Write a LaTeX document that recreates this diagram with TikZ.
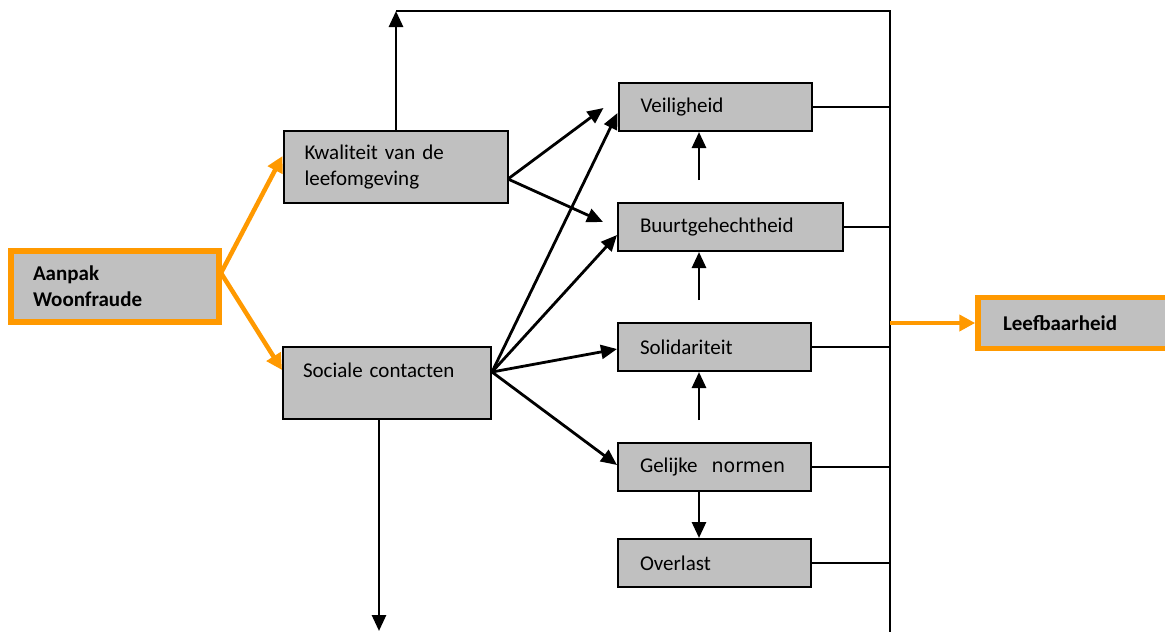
\documentclass[tikz,border=0pt]{standalone}
\usepackage{fontspec}
\setmainfont{Carlito}
\newfontfamily\verd{DejaVu Sans}
\usetikzlibrary{arrows.meta,calc}
\definecolor{boxgray}{RGB}{192,192,192}
\definecolor{orng}{RGB}{255,153,0}
\begin{document}
\begin{tikzpicture}[x=1pt,y=-1pt,
  box/.style={draw=black, line width=2pt, fill=boxgray, inner sep=0pt,
    font=\fontsize{21}{26}\selectfont, align=left},
  obox/.style={box, draw=orng, line width=5.5pt, font=\fontsize{21}{26}\selectfont\bfseries},
  arr/.style={line width=2.8pt, -{Triangle[length=16pt,width=14pt]}},
  oarr/.style={line width=4.5pt, draw=orng, color=orng, -{Triangle[length=16pt,width=16pt]}},
  link/.style={line width=1.8pt}]
\useasboundingbox (0,0) rectangle (1165,632);
% boxes
\node[obox, minimum width=208pt, minimum height=71pt, text width=164pt] (aanpak) at (115,286.5) {Aanpak\\Woonfraude};
\node[box, minimum width=224pt, minimum height=72pt, text width=182pt] (kwal) at (395.5,167) {Kwaliteit van de\\leefomgeving};
\node[box, minimum width=208pt, minimum height=72pt, text width=168pt] (soc) at (387,383) {Sociale contacten\\\mbox{}};
\node[box, minimum width=193pt, minimum height=48pt, text width=149pt] (veil) at (715,107) {Veiligheid};
\node[box, minimum width=225pt, minimum height=48pt, text width=181pt] (buurt) at (730.5,227) {Buurtgehechtheid};
\node[box, minimum width=193pt, minimum height=48pt, text width=149pt] (solid) at (714.5,347) {Solidariteit};
\node[box, minimum width=193pt, minimum height=48pt, text width=149pt] (gelijk) at (714.5,467) {Gelijke\ \ {\verd\fontsize{19}{26}\selectfont normen}};
\node[box, minimum width=193pt, minimum height=48pt, text width=149pt] (overl) at (714.5,563) {Overlast};
\node[obox, minimum width=200pt, minimum height=51pt, text width=150pt] (leef) at (1078,323) {Leefbaarheid};
% coordinates
\coordinate (ku) at (396,11);
\coordinate (tr) at (890,11);
\coordinate (br) at (890,634);
\coordinate (sd) at (379,631);
\coordinate (lj) at (890,323);
\coordinate (ae) at (221,273);
\coordinate (ke) at (508,179);
\coordinate (se) at (492,372);
\coordinate (va) at (699,180);
\coordinate (vb) at (699,300);
\coordinate (vc) at (699,420);
% right-hand frame
\draw[arr] (kwal.north -| ku) -- (ku);
\draw[link] (ku) -- (tr) -- (br);
\draw[arr] (soc.south -| sd) -- (sd);
\foreach \n in {veil,buurt,solid,gelijk,overl}
  \draw[link] (\n.east) -- (\n.east -| tr);
\draw[oarr] (lj) -- (leef.west);
% orange input arrows
\draw[oarr] (ae) -- ($(kwal.west)+(0,-11)$);
\draw[oarr] (ae) -- ($(soc.west)+(0,-13)$);
% diagonal arrows
\draw[arr] (ke) -- ($(veil.west)+(-14,1)$);
\draw[arr] (ke) -- ($(buurt.west)+(-14,-5)$);
\draw[arr] (se) -- ($(veil.west)+(0,6)$);
\draw[arr] (se) -- ($(buurt.west)+(0,8)$);
\draw[arr] (se) -- ($(solid.west)+(0,2)$);
\draw[arr] (se) -- ($(gelijk.west)+(0,-2)$);
% vertical arrows
\draw[arr] (va) -- (va |- veil.south);
\draw[arr] (vb) -- (vb |- buurt.south);
\draw[arr] (vc) -- (vc |- solid.south);
\draw[arr] (gelijk.south -| va) -- (overl.north -| va);
\end{tikzpicture}
\end{document}
